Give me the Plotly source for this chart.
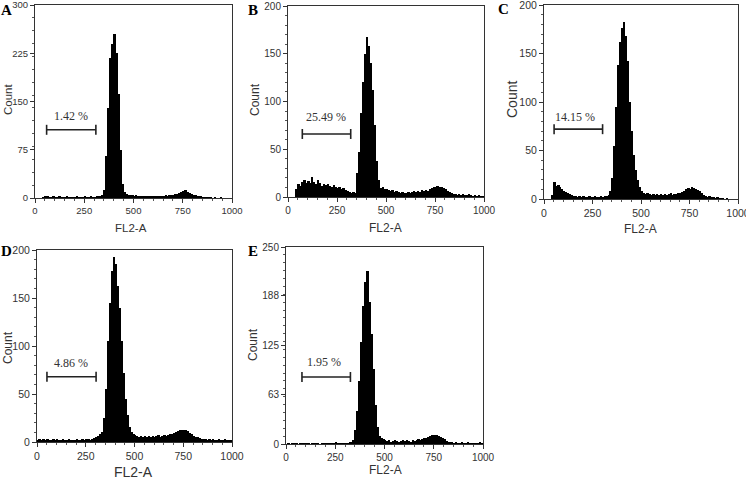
import plotly.graph_objects as go

# ---- data (FL2-A histogram counts, 10-unit channels 0..1000) ----
bin_centers = list(range(5, 1000, 10))

counts_A = [0, 0, 0, 0, 1, 3, 2, 1, 1, 2,
            1, 1, 2, 1, 1, 1, 2, 1, 1, 1,
            1, 2, 1, 1, 1, 2, 1, 1, 2, 1,
            1, 2, 2, 3, 5, 12, 65, 140, 218, 240,
            255, 225, 162, 75, 22, 10, 7, 5, 4, 4,
            3, 5, 3, 2, 3, 2, 2, 3, 3, 2,
            3, 2, 3, 2, 3, 3, 4, 3, 4, 4,
            5, 6, 7, 8, 10, 11, 12, 10, 8, 6,
            5, 4, 3, 2, 2, 1, 1, 1, 1, 1,
            0, 1, 0, 0, 1, 0, 0, 0, 0, 0]

counts_B = [0, 0, 0, 0, 8, 14, 12, 16, 18, 15,
            17, 15, 21, 16, 14, 18, 15, 12, 14, 13,
            14, 12, 11, 13, 10, 9, 11, 8, 9, 7,
            6, 5, 4, 5, 4, 25, 47, 88, 120, 150,
            168, 158, 140, 112, 75, 38, 18, 9, 10, 8,
            8, 7, 6, 7, 5, 6, 5, 4, 5, 4,
            4, 5, 4, 5, 6, 5, 6, 5, 7, 6,
            7, 6, 8, 9, 10, 11, 12, 11, 10, 9,
            8, 6, 5, 4, 3, 3, 2, 3, 2, 3,
            2, 2, 3, 2, 1, 2, 1, 2, 1, 1]

counts_C = [0, 0, 0, 0, 4, 18, 13, 14, 12, 10,
            8, 7, 6, 5, 4, 3, 3, 2, 3, 2,
            3, 2, 2, 3, 2, 2, 3, 2, 2, 3,
            2, 3, 3, 4, 8, 22, 55, 95, 138, 162,
            176, 182, 168, 142, 100, 70, 45, 30, 20, 12,
            8, 6, 5, 6, 5, 4, 5, 4, 5, 4,
            5, 4, 5, 4, 5, 6, 4, 5, 5, 6,
            6, 7, 8, 10, 11, 10, 12, 11, 10, 9,
            8, 6, 4, 3, 2, 3, 2, 2, 1, 2,
            1, 1, 1, 0, 1, 0, 0, 0, 0, 0]

counts_D = [2, 3, 2, 3, 2, 3, 2, 2, 3, 2,
            3, 2, 2, 3, 2, 2, 3, 2, 2, 2,
            3, 2, 2, 3, 2, 3, 3, 2, 3, 4,
            5, 6, 8, 10, 25, 55, 105, 145, 178, 193,
            185, 162, 140, 105, 72, 45, 28, 16, 10, 8,
            7, 6, 5, 6, 5, 6, 5, 6, 5, 6,
            5, 6, 7, 5, 6, 7, 6, 7, 8, 8,
            9, 10, 11, 12, 13, 12, 12, 11, 9, 8,
            6, 5, 5, 4, 3, 3, 3, 2, 3, 2,
            3, 2, 2, 3, 2, 2, 3, 2, 2, 2]

counts_E = [0, 1, 0, 1, 1, 1, 0, 1, 1, 1,
            1, 1, 0, 1, 1, 1, 1, 0, 1, 1,
            1, 1, 1, 1, 1, 2, 1, 1, 1, 1,
            1, 1, 2, 3, 5, 18, 42, 80, 130, 175,
            205, 219, 180, 140, 95, 50, 22, 10, 8, 6,
            5, 4, 5, 3, 4, 5, 4, 3, 4, 5,
            4, 5, 4, 3, 5, 4, 5, 6, 5, 6,
            7, 8, 9, 10, 11, 12, 11, 10, 9, 7,
            6, 4, 3, 2, 2, 1, 2, 1, 1, 2,
            1, 1, 2, 1, 1, 1, 1, 1, 2, 1]

panel_letters = ["A", "B", "C", "D", "E"]
y_max = [300, 200, 200, 200, 250]
y_ticks = [[0, 75, 150, 225, 300], [0, 50, 100, 150, 200], [0, 50, 100, 150, 200],
           [0, 50, 100, 150, 200], [0, 63, 125, 188, 250]]
x_ticks = [0, 250, 500, 750, 1000]
gate_start = [59, 73, 52, 51, 81]
gate_end = [309, 320, 302, 303, 327]
gate_level = [106, 66, 72, 68, 85]
gate_label = ["1.42 %", "25.49 %", "14.15 %", "4.86 %", "1.95 %"]
gate_label_x = [183, 196, 160, 176, 194]
gate_label_y = [127, 84, 85, 82, 104]

all_counts = [counts_A, counts_B, counts_C, counts_D, counts_E]

# ---- layout geometry (pixels in a 746 x 480 canvas) ----
W, H = 746, 480
boxes = [(35, 232, 5, 198), (288, 484, 6, 197), (544, 738, 5, 199),
         (37, 232, 250, 442), (286, 483, 247, 444)]
letter_pos = [(7, 10), (253, 10), (503, 9), (7, 251), (253, 251)]
count_pos = [(8, 100), (255, 100), (512, 100), (8, 348), (253, 345)]
fl2_pos = [(131, 228), (385, 228), (640, 229), (133, 472), (385, 470)]
tick_font = [9.5, 10, 10.5, 10.5, 10]
title_font = [11.5, 12, 14, 12, 12]
fl2_font = [11.5, 12, 12, 14, 12]

fig = go.Figure()
layout = dict(width=W, height=H, margin=dict(l=0, r=0, t=0, b=0, autoexpand=False),
              paper_bgcolor="white", plot_bgcolor="white", showlegend=False,
              bargap=0)
annotations = []
shapes = []

for i in range(5):
    n = "" if i == 0 else str(i + 1)
    xa, ya = "xaxis" + n, "yaxis" + n
    xr, yr = "x" + n, "y" + n
    x0, x1, y0, y1 = boxes[i]
    fig.add_trace(go.Bar(x=bin_centers, y=all_counts[i], width=10,
                         marker=dict(color="black", line=dict(width=0)),
                         xaxis=xr, yaxis=yr, hoverinfo="skip"))
    layout[xa] = dict(domain=[x0 / W, x1 / W], range=[0, 1000], anchor=yr,
                      automargin=False, ticklabeloverflow="allow",
                      tickvals=x_ticks, ticks="outside", ticklen=4, tickcolor="#333",
                      showline=True, linecolor="#333", linewidth=1, mirror=True,
                      showgrid=False, zeroline=False,
                      tickfont=dict(family="Liberation Sans, Arial", size=tick_font[i], color="#333"),
                      minor=dict(ticks="outside", ticklen=2, tickcolor="#555", dtick=50))
    layout[ya] = dict(domain=[1 - y1 / H, 1 - y0 / H], range=[0, y_max[i]], anchor=xr,
                      automargin=False, ticklabeloverflow="allow",
                      tickvals=y_ticks[i], ticks="outside", ticklen=4, tickcolor="#333",
                      showline=True, linecolor="#333", linewidth=1, mirror=True,
                      showgrid=False, zeroline=False,
                      tickfont=dict(family="Liberation Sans, Arial", size=tick_font[i], color="#333"),
                      minor=dict(ticks="outside", ticklen=2, tickcolor="#555", nticks=6))
    # gate bar
    shapes.append(dict(type="line", xref=xr, yref=yr, x0=gate_start[i], x1=gate_end[i],
                       y0=gate_level[i], y1=gate_level[i], line=dict(color="#222", width=1.6)))
    for gx in (gate_start[i], gate_end[i]):
        shapes.append(dict(type="line", xref=xr, yref=yr, x0=gx, x1=gx,
                           ysizemode="pixel", yanchor=gate_level[i], y0=-5, y1=5,
                           line=dict(color="#222", width=1.6)))
    annotations.append(dict(x=gate_label_x[i], y=gate_label_y[i], xref=xr, yref=yr,
                            xanchor="center", yanchor="middle",
                            text=gate_label[i], showarrow=False,
                            font=dict(family="Liberation Serif, Times New Roman", size=12, color="#333")))
    # panel letter
    lx, ly = letter_pos[i]
    annotations.append(dict(x=lx / W, y=1 - ly / H, xref="paper", yref="paper",
                            xanchor="center", yanchor="middle",
                            text="<b>" + panel_letters[i] + "</b>", showarrow=False,
                            font=dict(family="Liberation Serif, Times New Roman", size=15, color="black")))
    cx, cy = count_pos[i]
    annotations.append(dict(x=cx / W, y=1 - cy / H, xref="paper", yref="paper",
                            xanchor="center", yanchor="middle",
                            text="Count", textangle=-90, showarrow=False,
                            font=dict(family="Liberation Sans, Arial", size=title_font[i], color="#333")))
    fx, fy = fl2_pos[i]
    annotations.append(dict(x=fx / W, y=1 - fy / H, xref="paper", yref="paper",
                            xanchor="center", yanchor="middle",
                            text="FL2-A", showarrow=False,
                            font=dict(family="Liberation Sans, Arial", size=fl2_font[i], color="#333")))

layout["annotations"] = annotations
layout["shapes"] = shapes
fig.update_layout(**layout)
fig.write_html("out.html", config={"displayModeBar": False},
               post_script="document.body.style.margin='0';document.body.style.overflow='hidden';")
